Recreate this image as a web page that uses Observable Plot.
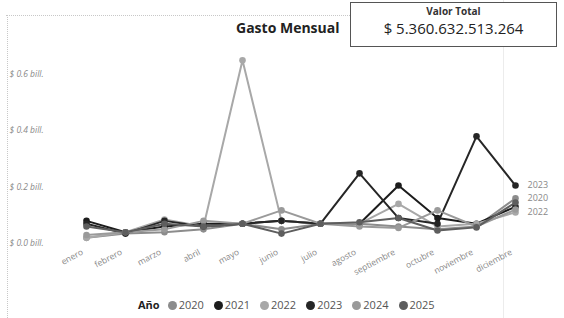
<!DOCTYPE html>
<html>
<head>
<meta charset="utf-8">
<script src="https://cdn.jsdelivr.net/npm/d3@7"></script>
<script src="https://cdn.jsdelivr.net/npm/@observablehq/plot@0.6"></script>
<style>
  body { margin: 0; background: #fff; font-family: "Open Sans", "DejaVu Sans", sans-serif; }
  #wrap { position: relative; width: 564px; height: 318px; overflow: hidden; background: #fff; }
  #frameTop { position: absolute; left: 6px; top: 15px; width: 344px; border-top: 1px dotted #c8c8c8; }
  #frameLeft { position: absolute; left: 7px; top: 15px; height: 303px; border-left: 1px dotted #c8c8c8; }
  #vline { position: absolute; left: 503px; top: 0; height: 318px; border-left: 1px solid #ececec; }
  #title { position: absolute; left: 236px; top: 18px; font-weight: bold; font-size: 14px; color: #222; }
  #card { position: absolute; left: 350px; top: 2px; width: 207px; height: 45px; border: 1px solid #555; box-sizing: border-box; text-align: center; background: #fff; }
  #card .lab { font-size: 10px; font-weight: bold; color: #333; margin-top: 1px; }
  #card .val { font-size: 15px; color: #222; margin-top: 0px; }
  #plot { position: absolute; left: 0; top: 0; }
  #legend { position: absolute; left: 138px; top: 297px; font-size: 11px; color: #555; white-space: nowrap; }
  #legend b { color: #222; margin-right: 8px; }
  #legend .it { margin-right: 10px; }
  #legend .sw { display: inline-block; width: 9px; height: 9px; border-radius: 50%; vertical-align: -1px; margin-right: 2px; }
</style>
</head>
<body>
<div id="wrap">
  <div id="frameTop"></div>
  <div id="frameLeft"></div>
  <div id="vline"></div>
  <div id="plot"></div>
  <div id="title">Gasto Mensual</div>
  <div id="card"><div class="lab">Valor Total</div><div class="val">$ 5.360.632.513.264</div></div>
  <div id="legend"></div>
</div>
<script>
const months = ["enero","febrero","marzo","abril","mayo","junio","julio","agosto","septiembre","octubre","noviembre","diciembre"];
const years = ["2020","2021","2022","2023","2024","2025"];
const colors = ["#8c8c8c","#1c1c1c","#a8a8a8","#262626","#9a9a9a","#5e5e5e"];
const yTicks = [0, 0.2, 0.4, 0.6];
const yTickLabels = ["$ 0.0 bill.","$ 0.2 bill.","$ 0.4 bill.","$ 0.6 bill."];
const endLabelYears = ["2023","2020","2022"];

// values in billions (bill.)
const v2020 = [0.020, 0.035, 0.040, 0.050, 0.070, 0.050, 0.070, 0.070, 0.060, 0.050, 0.060, 0.160];
const v2021 = [0.080, 0.040, 0.060, 0.070, 0.070, 0.080, 0.070, 0.070, 0.205, 0.090, 0.070, 0.130];
const v2022 = [0.020, 0.040, 0.085, 0.060, 0.648, 0.080, 0.070, 0.070, 0.140, 0.060, 0.070, 0.110];
const v2023 = [0.070, 0.035, 0.080, 0.060, 0.070, 0.080, 0.070, 0.248, 0.090, 0.070, 0.379, 0.205];
const v2024 = [0.030, 0.040, 0.050, 0.080, 0.070, 0.117, 0.070, 0.060, 0.055, 0.117, 0.060, 0.120];
const v2025 = [0.060, 0.040, 0.070, 0.060, 0.070, 0.035, 0.070, 0.075, 0.090, 0.046, 0.057, 0.145];

const series = {"2020": v2020, "2021": v2021, "2022": v2022, "2023": v2023, "2024": v2024, "2025": v2025};
const data = [];
for (const y of years) series[y].forEach((v, i) => data.push({year: y, month: months[i], value: v}));
const last = data.filter(d => d.month === "diciembre" && endLabelYears.includes(d.year));

const chart = Plot.plot({
  width: 564,
  height: 285,
  marginLeft: 85,
  marginRight: 48,
  marginTop: 45,
  marginBottom: 42,
  style: {background: "transparent", fontFamily: "Open Sans, DejaVu Sans, sans-serif"},
  x: {type: "point", domain: months, padding: 0},
  y: {domain: [0, 0.7]},
  color: {domain: years, range: colors},
  marks: [
    Plot.gridY(yTicks, {stroke: "#c4c4c4", strokeOpacity: 1, strokeDasharray: "1,3", x1: 60, x2: 480}),
    Plot.axisY(yTicks, {tickSize: 0, textAnchor: "start", dx: -67, fontSize: 8.5, fill: "#8a8a8a", fontStyle: "italic",
      tickFormat: (d) => yTickLabels[yTicks.indexOf(d)], label: null}),
    Plot.axisX({tickSize: 0, tickRotate: -28, fontSize: 8.5, fill: "#888", label: null, tickPadding: 8, dx: -4}),
    Plot.line(data, {x: "month", y: "value", z: "year", stroke: "year", strokeWidth: 2}),
    Plot.dot(data, {x: "month", y: "value", fill: "year", r: 3.3}),
    Plot.text(last, {x: "month", y: "value", text: "year", dx: 12, textAnchor: "start", fontSize: 9, fill: "#888"})
  ]
});
document.getElementById("plot").appendChild(chart);

const leg = document.getElementById("legend");
leg.innerHTML = "<b>Año</b>" + years.map((y, i) =>
  `<span class="it"><span class="sw" style="background:${colors[i]}"></span>${y}</span>`).join("");
</script>
</body>
</html>
